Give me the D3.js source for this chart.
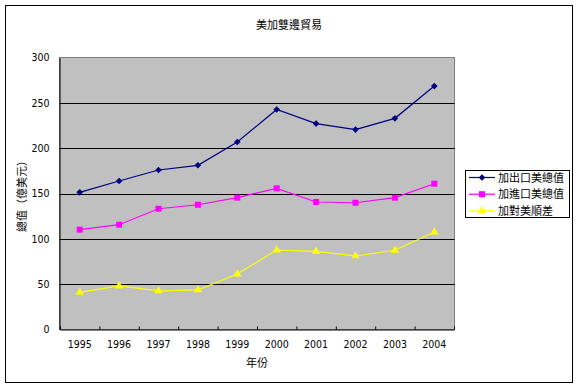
<!DOCTYPE html>
<html>
<head>
<meta charset="utf-8">
<script src="https://cdn.jsdelivr.net/npm/d3@7"></script>
<style>
  body { margin: 0; background: #fff; }
  text { font-family: "Noto Sans CJK TC", "Noto Sans", sans-serif; }
  .num { font-family: "Liberation Sans Narrow", "DejaVu Sans Condensed", "Liberation Sans", sans-serif; }
</style>
</head>
<body>
<div id="chart"></div>
<script>
const years = ["1995", "1996", "1997", "1998", "1999", "2000", "2001", "2002", "2003", "2004"];
const exportsToUS = [151.3, 163.8, 175.9, 181.1, 206.8, 242.6, 227.1, 220.5, 232.9, 268.5];
const importsFromUS = [110.1, 115.6, 133.2, 137.6, 145.4, 155.7, 140.6, 139.8, 145.4, 160.8];
const surplus = [41.0, 48.0, 42.5, 43.6, 61.2, 87.7, 86.2, 81.1, 87.4, 107.5];
const yTicks = [0, 50, 100, 150, 200, 250, 300];
const seriesNames = ["加出口美總值", "加進口美總值", "加對美順差"];

const W = 580, H = 389;
const plot = { left: 60, right: 454, top: 57.5, bottom: 329.5 };

const svg = d3.select("#chart")
  .append("svg")
  .attr("width", W)
  .attr("height", H);

// outer chart border
svg.append("rect")
  .attr("x", 5.5).attr("y", 5.5)
  .attr("width", 567).attr("height", 377)
  .attr("fill", "#fff")
  .attr("stroke", "#000");

svg.append("text")
  .attr("x", 289).attr("y", 29)
  .attr("text-anchor", "middle")
  .attr("font-size", 11)
  .text("美加雙邊貿易");

const x = d3.scaleBand()
  .domain(years)
  .range([plot.left, plot.right])
  .padding(0);

const y = d3.scaleLinear()
  .domain([0, 300])
  .range([plot.bottom, plot.top]);

// plot background
svg.append("rect")
  .attr("x", plot.left - 0.5).attr("y", plot.top)
  .attr("width", plot.right - plot.left + 1)
  .attr("height", plot.bottom - plot.top)
  .attr("fill", "#c0c0c0")
  .attr("stroke", "#808080");

// gridlines
svg.append("g")
  .selectAll("line")
  .data(yTicks.filter(d => d > 0 && d < 300))
  .join("line")
  .attr("x1", plot.left).attr("x2", plot.right + 0.5)
  .attr("y1", d => Math.round(y(d)) + 0.5)
  .attr("y2", d => Math.round(y(d)) + 0.5)
  .attr("stroke", "#000");

// y axis
const yAxis = svg.append("g")
  .attr("transform", `translate(${plot.left - 0.5},0)`)
  .call(d3.axisLeft(y).tickValues(yTicks).tickSize(0).tickPadding(10));
yAxis.select(".domain").attr("stroke", "#000");
yAxis.selectAll("text")
  .attr("class", "num")
  .attr("font-size", 10.5)
  .attr("fill", "#000");

// x axis: labels in band centres, ticks at band boundaries
const xb = d3.scaleLinear().domain([0, years.length]).range([plot.left, plot.right]);
const xTickAxis = svg.append("g")
  .attr("transform", `translate(0,${plot.bottom})`)
  .call(d3.axisBottom(xb).tickValues(d3.range(0, years.length + 1)).tickFormat("").tickSizeInner(-3).tickSizeOuter(0));
xTickAxis.select(".domain").attr("stroke", "#000");
xTickAxis.selectAll(".tick line").attr("stroke", "#000");

const xAxis = svg.append("g")
  .attr("transform", `translate(0,${plot.bottom})`)
  .call(d3.axisBottom(x).tickSize(0).tickPadding(11));
xAxis.select(".domain").remove();
xAxis.selectAll("text")
  .attr("class", "num")
  .attr("font-size", 10.5)
  .attr("fill", "#000");

// axis titles
svg.append("text")
  .attr("x", 257).attr("y", 367)
  .attr("text-anchor", "middle")
  .attr("font-size", 11)
  .text("年份");

svg.append("text")
  .attr("transform", `translate(26,${(plot.top + plot.bottom) / 2}) rotate(-90)`)
  .attr("text-anchor", "middle")
  .attr("font-size", 11)
  .text("總值（億美元）");

const series = [
  { name: seriesNames[0], values: exportsToUS, color: "#000080", symbol: d3.symbolSquare, size: 22, rotate: 45 },
  { name: seriesNames[1], values: importsFromUS, color: "#ff00ff", symbol: d3.symbolSquare, size: 36, rotate: 0 },
  { name: seriesNames[2], values: surplus, color: "#ffff00", symbol: d3.symbolTriangle, size: 30, rotate: 0 }
];

const cx = d => x(d) + x.bandwidth() / 2;

const line = d3.line()
  .x((d, i) => cx(years[i]))
  .y(d => y(d));

series.forEach(s => {
  svg.append("path")
    .attr("fill", "none")
    .attr("stroke", s.color)
    .attr("stroke-width", 1.2)
    .attr("d", line(s.values));

  svg.append("g")
    .selectAll("path")
    .data(s.values)
    .join("path")
    .attr("transform", (d, i) => `translate(${cx(years[i])},${y(d)}) rotate(${s.rotate})`)
    .attr("d", d3.symbol().type(s.symbol).size(s.size))
    .attr("fill", s.color);
});

// legend
const legend = svg.append("g");
legend.append("rect")
  .attr("x", 465.5).attr("y", 170.5)
  .attr("width", 104).attr("height", 47)
  .attr("fill", "#fff")
  .attr("stroke", "#000");

const item = legend.selectAll(".item")
  .data(series)
  .join("g")
  .attr("transform", (d, i) => `translate(469,${177.5 + i * 16.7})`);

item.append("line")
  .attr("x1", 0).attr("x2", 26)
  .attr("stroke", d => d.color)
  .attr("stroke-width", 1.2);

item.append("path")
  .attr("transform", d => `translate(13,0) rotate(${d.rotate})`)
  .attr("d", d => d3.symbol().type(d.symbol).size(d.size)())
  .attr("fill", d => d.color);

item.append("text")
  .attr("x", 29).attr("y", 4)
  .attr("font-size", 11)
  .text(d => d.name);
</script>
</body>
</html>
